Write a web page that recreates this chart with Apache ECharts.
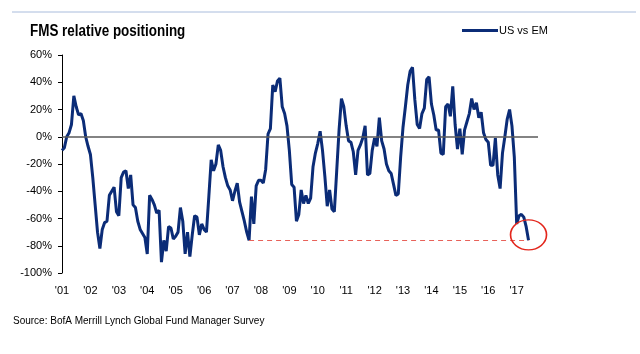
<!DOCTYPE html>
<html>
<head>
<meta charset="utf-8">
<script src="https://cdn.jsdelivr.net/npm/echarts@6/dist/echarts.min.js"></script>
<style>
  html, body { margin: 0; padding: 0; background: #fff; }
  #chart { width: 640px; height: 354px; }
</style>
</head>
<body>
<div id="chart"></div>
<script>
// monthly categories Jan 2001 .. Oct 2017 (axis runs a little past the last survey)
var months = [];
for (var y = 2001; y <= 2017; y++) {
  for (var mo = 1; mo <= 12; mo++) {
    if (months.length < 202) months.push(y + '-' + (mo < 10 ? '0' + mo : mo));
  }
}

// US vs EM relative positioning, % net, Jan 2001 .. Jun 2017
var usVsEm = [
  -10, -8, 0, 3, 9, 30, 22, 16, 17, 12, 0, -7,          // 2001
  -13, -30, -50, -70, -82, -68, -63, -62, -43, -40, -37, -55, // 2002
  -58, -30, -26, -25, -38, -28, -50, -52, -62, -68, -71, -74, // 2003
  -86, -43, -46, -50, -56, -54, -92, -76, -84, -66, -67, -75, // 2004
  -73, -70, -52, -62, -86, -70, -88, -72, -58, -59, -72, -64, // 2005
  -68, -70, -44, -17, -25, -20, -6, -10, -22, -30, -36, -39,  // 2006
  -47, -40, -34, -48, -55, -62, -70, -76, -44, -64, -36, -32, // 2007
  -32, -34, -24, 2, 6, 38, 33, 41, 43, 22, 17, 8,             // 2008
  -10, -35, -37, -62, -57, -39, -49, -43, -49, -45, -22, -12, // 2009
  -5, 4, -10, -29, -51, -39, -53, -55, -25, 5, 28, 22,        // 2010
  8, -3, -4, -11, -28, -10, -6, -1, 8, -28, -27, -10,         // 2011
  -1, -7, 14, -3, -9, -20, -25, -27, -35, -43, -42, -15,      // 2012
  7, 22, 38, 48, 51, 27, 9, 6, 17, 21, 42, 44,                // 2013
  24, 16, 5, 5, -12, -13, 22, 24, 15, 37, 9, -9,              // 2014
  6, -13, 5, 11, 17, 28, 20, 25, 14, 18, 3, -2,               // 2015
  -4, -21, -21, -1, -28, -38, -12, 0, 13, 20, 8, -15,         // 2016
  -64, -58, -57, -59, -66, -76                                // 2017
];

var lowLevel = -76;            // dashed reference: 2007 low
var lowFrom = '2007-08';
var lowTo = '2017-06';

var chart = echarts.init(document.getElementById('chart'));
chart.setOption({
  animation: false,
  backgroundColor: '#fff',
  legend: {
    left: 457,
    top: 20,
    icon: 'rect',
    itemWidth: 36,
    itemHeight: 3,
    itemGap: 2,
    textStyle: { fontFamily: 'Liberation Sans, Arial', fontSize: 11, color: '#000', padding: [0, 0, 0, -4] },
    data: ['US vs EM']
  },
  grid: { left: 62, right: 102, top: 55, bottom: 81 },
  xAxis: {
    type: 'category',
    data: months,
    boundaryGap: false,
    axisLine: { show: false },
    axisTick: { show: false },
    axisLabel: {
      interval: function (i) { return i % 12 === 0; },
      formatter: function (v) { return "'" + v.slice(2, 4); },
      fontFamily: 'Liberation Sans, Arial',
      fontSize: 11,
      color: '#000',
      margin: 12
    },
    splitLine: { show: false }
  },
  yAxis: {
    type: 'value',
    min: -100,
    max: 60,
    interval: 20,
    axisLine: { show: true, lineStyle: { color: '#000', width: 1 } },
    axisTick: { show: true, length: 4, lineStyle: { color: '#000' } },
    axisLabel: {
      formatter: '{value}%',
      fontFamily: 'Liberation Sans, Arial',
      fontSize: 11,
      color: '#000',
      margin: 10
    },
    splitLine: { show: false }
  },
  series: [{
    name: 'US vs EM',
    type: 'line',
    data: usVsEm,
    symbol: 'none',
    lineStyle: { color: '#0b2c77', width: 3 },
    itemStyle: { color: '#0b2c77' },
    z: 3,
    markLine: {
      silent: true,
      symbol: 'none',
      label: { show: false },
      data: [
        [{ yAxis: 0, x: 62, lineStyle: { color: '#5a5a5a', width: 1.5, type: 'solid' } }, { yAxis: 0, x: 538 }],
        [{ coord: [lowFrom, lowLevel], lineStyle: { color: '#e8625a', width: 1, type: [5, 4] } }, { coord: [lowTo, lowLevel] }]
      ]
    },
    markPoint: {
      silent: true,
      symbol: 'circle',
      symbolSize: [36, 30],
      label: { show: false },
      itemStyle: { color: 'rgba(0,0,0,0)', borderColor: '#e3261c', borderWidth: 1.5 },
      data: [{ coord: [lowTo, -72] }]
    }
  }],
  graphic: [
    { type: 'line', shape: { x1: 12, y1: 12, x2: 636, y2: 12 }, style: { stroke: '#a9bcdc', lineWidth: 1 } },
    {
      // narrow bold title (Arial Narrow look)
      type: 'text', x: 30, y: 24, scaleX: 0.84,
      style: { text: 'FMS relative positioning', fontFamily: 'Liberation Sans, Arial', fontSize: 16, fontWeight: 'bold', fill: '#000' }
    },
    {
      type: 'text', left: 13, top: 316,
      style: { text: 'Source: BofA Merrill Lynch Global Fund Manager Survey', fontFamily: 'Liberation Sans, Arial', fontSize: 10, fill: '#000' }
    }
  ]
});
</script>
</body>
</html>
